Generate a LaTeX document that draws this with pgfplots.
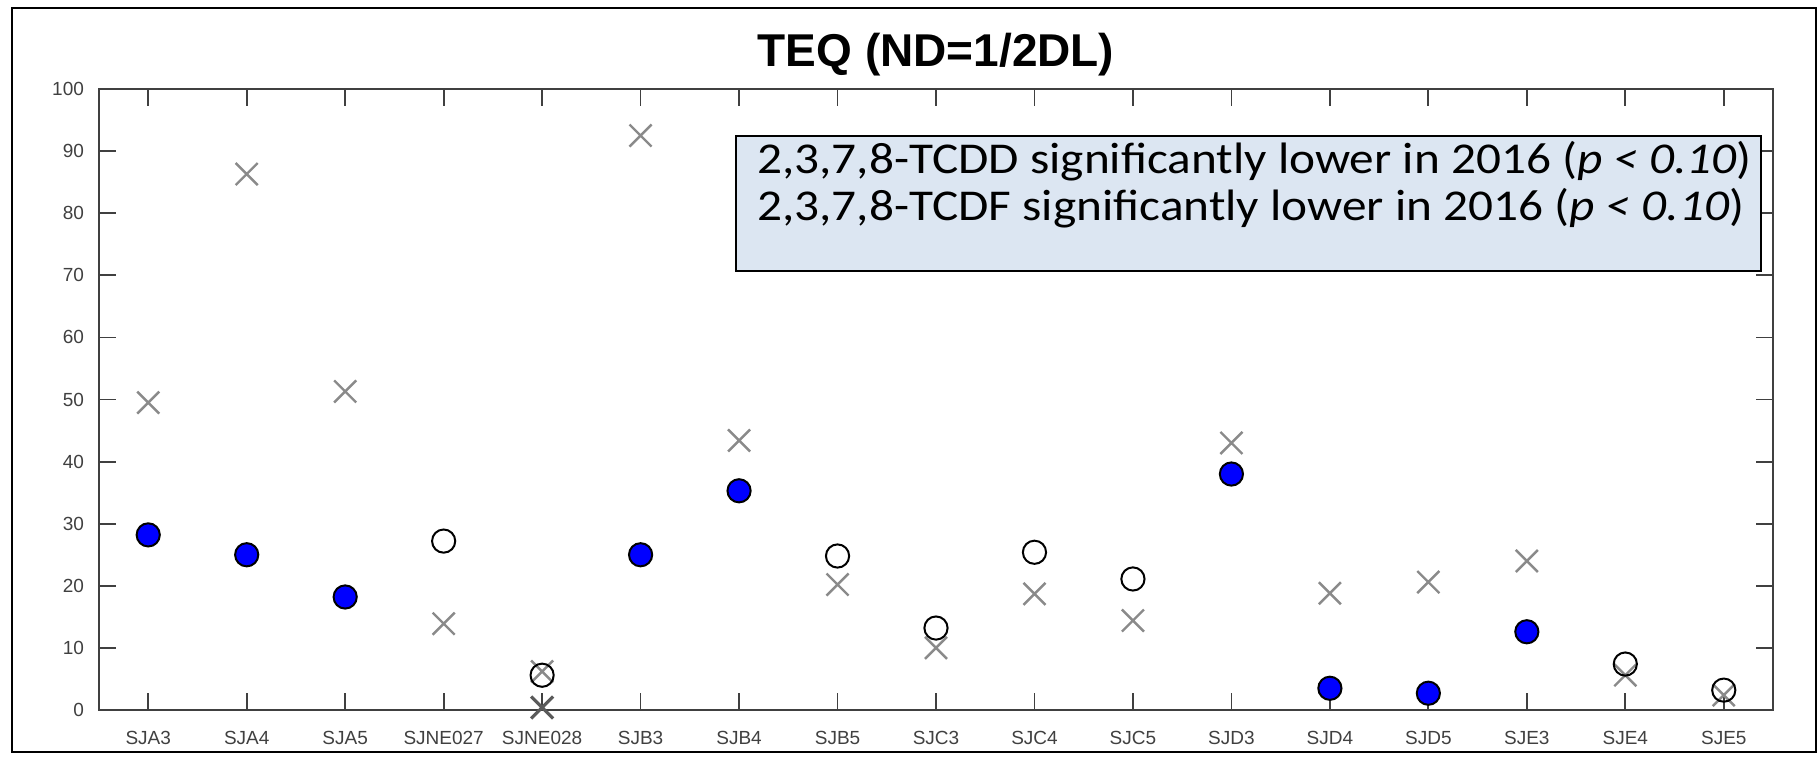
\documentclass[border=0pt]{standalone}
\usepackage{fontspec}
\setmainfont{Liberation Sans}
\newfontfamily\calibri[FakeStretch=1.12]{Carlito}
\usepackage{pgfplots}
\pgfplotsset{compat=1.18}
\definecolor{axisgray}{HTML}{404040}
\definecolor{crossgray}{HTML}{8A8A8A}
\definecolor{boxblue}{HTML}{DCE6F2}

\begin{document}
\begin{tikzpicture}
\begin{axis}[
    scale only axis,
    width=837pt, height=310.5pt,
    xmin=-0.5, xmax=16.5, ymin=0, ymax=100,
    xtick={0,...,16},
    xticklabels={SJA3,SJA4,SJA5,SJNE027,SJNE028,SJB3,SJB4,SJB5,SJC3,SJC4,SJC5,SJD3,SJD4,SJD5,SJE3,SJE4,SJE5},
    ytick={0,10,...,100},
    tick align=inside,
    major tick length=8.5pt,
    axis line style={axisgray, line width=1pt},
    tick style={axisgray, line width=0.9pt},
    tick label style={font=\fontsize{9.5}{11}\selectfont, text=axisgray},
    xticklabel style={yshift=-7pt},
    yticklabel style={xshift=-4pt},
    /pgf/number format/assume math mode=true,
    title={TEQ (ND=1/2DL)},
    title style={at={(0.5,1)}, anchor=base, yshift=5pt, font=\bfseries\fontsize{23}{27}\selectfont},
    clip=false,
]
% crosses (grey)
\addplot[only marks, mark=x, mark size=7.8pt, color=crossgray, line width=1.2pt] coordinates {
    (0,49.5) (1,86.3) (2,51.3) (3,13.9) (4,6.2) (5,92.5) (6,43.4)
    (7,20.2) (8,10.0) (9,18.7) (10,14.4) (11,43.0) (12,18.8) (13,20.6)
    (14,24.0) (15,5.6) (16,2.4)
};
% overlapping crosses at SJNE028 (drawn darker)
\addplot[only marks, mark=x, mark size=7.8pt, color=crossgray!65!black, line width=1.6pt] coordinates {
    (4,0.4)
};
% significantly lower (filled blue)
\addplot[only marks, mark=*, mark size=5.8pt, mark options={fill=blue, draw=black, line width=1pt}] coordinates {
    (0,28.2) (1,25.0) (2,18.2) (5,25.0) (6,35.3) (11,38.0) (12,3.5) (13,2.7) (14,12.6)
};
% open circles
\addplot[only marks, mark=o, mark size=5.8pt, mark options={draw=black, line width=1pt}] coordinates {
    (3,27.2) (4,5.6) (7,24.8) (8,13.2) (9,25.4) (10,21.1) (15,7.4) (16,3.2)
};
\node[draw=black, line width=1pt, fill=boxblue, anchor=north east, inner sep=0pt,
      minimum width=512.5pt, minimum height=67.5pt] (box) at (rel axis cs:0.9934,0.926) {};
\node[anchor=base west, inner sep=0pt, font=\calibri\fontsize{22}{26}\selectfont]
    at ([xshift=11pt,yshift=-19.5pt]box.north west) {2,3,7,8-TCDD significantly lower in 2016 (\textit{p < 0.10})};
\node[anchor=base west, inner sep=0pt, font=\calibri\fontsize{22}{26}\selectfont]
    at ([xshift=11pt,yshift=-43pt]box.north west) {2,3,7,8-TCDF significantly lower in 2016 (\textit{p < 0.10})};
\end{axis}
\draw[black, line width=1pt] ([xshift=-43.5pt,yshift=-21pt]current axis.south west) rectangle ([xshift=21.5pt,yshift=40.5pt]current axis.north east);
\path ([xshift=-49.5pt,yshift=-23pt]current axis.south west) rectangle ([xshift=23.5pt,yshift=44.5pt]current axis.north east);
\end{tikzpicture}
\end{document}
